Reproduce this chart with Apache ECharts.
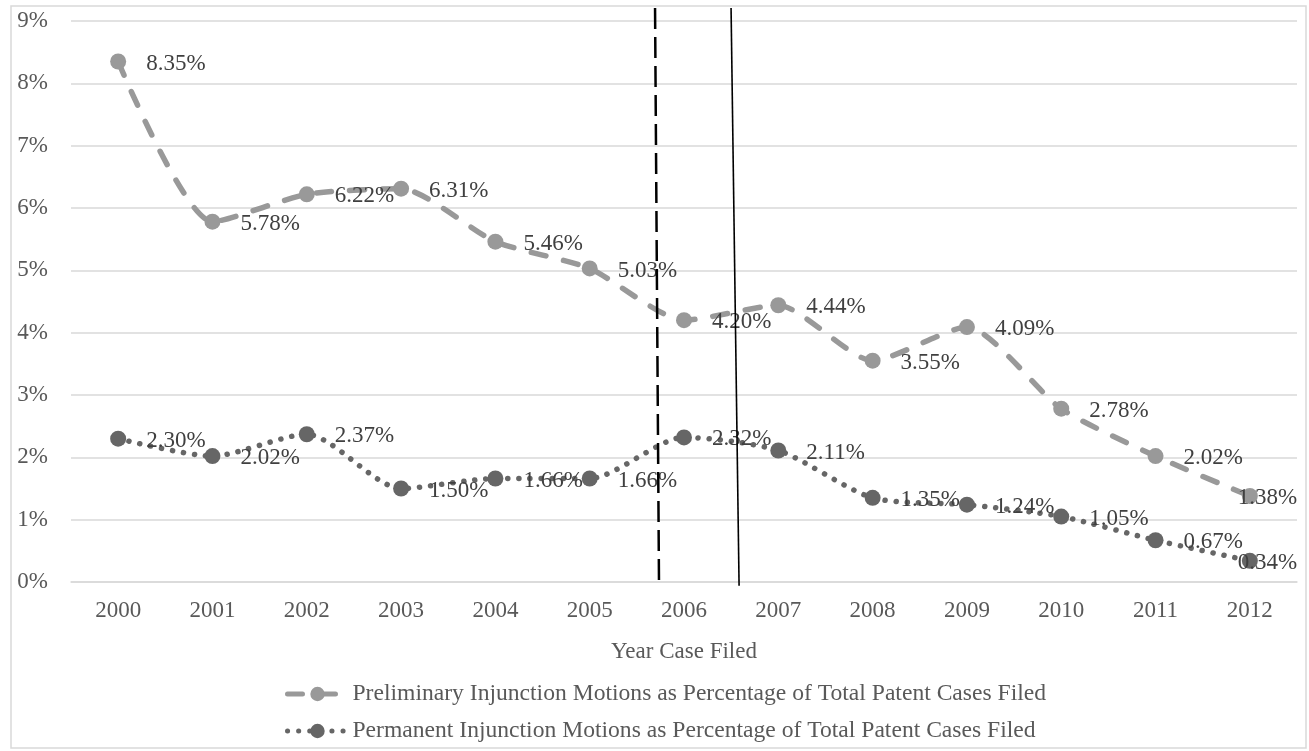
<!DOCTYPE html>
<html>
<head>
<meta charset="utf-8">
<script src="https://cdn.jsdelivr.net/npm/echarts@6/dist/echarts.min.js"></script>
<style>
html,body{margin:0;padding:0;background:#fff;}
#chart{width:1309px;height:751px;}
</style>
</head>
<body>
<div id="chart"></div>
<script>
// ---- data ----
var years = ['2000','2001','2002','2003','2004','2005','2006','2007','2008','2009','2010','2011','2012'];
var preliminary = [8.35, 5.78, 6.22, 6.31, 5.46, 5.03, 4.20, 4.44, 3.55, 4.09, 2.78, 2.02, 1.38];
var permanent = [2.30, 2.02, 2.37, 1.50, 1.66, 1.66, 2.32, 2.11, 1.35, 1.24, 1.05, 0.67, 0.34];
var prelimName = 'Preliminary Injunction Motions as Percentage of Total Patent Cases Filed';
var permName = 'Permanent Injunction Motions as Percentage of Total Patent Cases Filed';
var xTitle = 'Year Case Filed';
// reference lines in data units (x as category index, y as percent)
var dashedRefLine = [[5.693, 9.21], [5.735, -0.06]];
var solidRefLine = [[6.499, 9.21], [6.584, -0.06]];

// ---- styling ----
var FONT = 'Liberation Serif';
var labelShift = { 12: [-40, 2] };

function buildData(values) {
  return values.map(function (v, i) {
    var item = { value: v };
    if (labelShift[i]) item.label = { offset: labelShift[i] };
    return item;
  });
}

var chart = echarts.init(document.getElementById('chart'));
var labelCfg = {
  show: true, position: 'right', distance: 20, offset: [0, 2],
  color: '#404040', fontFamily: FONT, fontSize: 23,
  formatter: function (p) { return p.value.toFixed(2) + '%'; }
};
var legendText = { fontFamily: FONT, fontSize: 23.6, color: '#595959' };

chart.setOption({
  animation: false,
  backgroundColor: '#fff',
  graphic: [{
    type: 'rect', shape: { x: 11, y: 6, width: 1295, height: 742 },
    style: { fill: 'none', stroke: '#d9d9d9', lineWidth: 1.5 }, silent: true, z: -1
  }],
  grid: { left: 71, right: 12, top: 21, bottom: 169 },
  legend: [{
    left: 280, top: 677, itemWidth: 60, itemHeight: 18,
    lineStyle: { width: 5 },
    textStyle: legendText, data: [prelimName]
  }, {
    left: 280, top: 714, itemWidth: 60, itemHeight: 18,
    lineStyle: { width: 5 },
    textStyle: legendText, data: [permName]
  }],
  xAxis: [{
    type: 'category', data: years, boundaryGap: true,
    axisLine: { show: true, lineStyle: { color: '#d9d9d9', width: 1.5 } },
    axisTick: { show: false },
    axisLabel: { fontFamily: FONT, fontSize: 23, color: '#595959', margin: 17 },
    name: xTitle, nameLocation: 'middle', nameGap: 58,
    nameTextStyle: { fontFamily: FONT, fontSize: 23, color: '#595959' }
  }, {
    type: 'value', min: -0.5, max: 12.5, show: false
  }],
  yAxis: {
    type: 'value', min: 0, max: 9, interval: 1,
    axisLine: { show: false }, axisTick: { show: false },
    splitLine: { lineStyle: { color: '#d9d9d9', width: 1.5 } },
    axisLabel: { formatter: '{value}%', fontFamily: FONT, fontSize: 23, color: '#595959', margin: 23 }
  },
  series: [{
    name: prelimName, type: 'line', smooth: 0.22,
    data: buildData(preliminary),
    symbol: 'circle', symbolSize: 16,
    itemStyle: { color: '#999999' },
    lineStyle: { color: '#999999', width: 5.5, type: [15, 18], cap: 'round' },
    label: labelCfg, z: 3
  }, {
    name: permName, type: 'line', smooth: 0.25,
    data: buildData(permanent),
    symbol: 'circle', symbolSize: 16,
    itemStyle: { color: '#666666' },
    lineStyle: { color: '#666666', width: 5.5, type: [0.1, 11], cap: 'round' },
    label: labelCfg, z: 3
  }, {
    name: 'refDashed', type: 'line', xAxisIndex: 1, data: dashedRefLine,
    symbol: 'none', clip: false, silent: true,
    lineStyle: { color: '#000', width: 2.5, type: [21, 8] }, z: 5
  }, {
    name: 'refSolid', type: 'line', xAxisIndex: 1, data: solidRefLine,
    symbol: 'none', clip: false, silent: true,
    lineStyle: { color: '#000', width: 1.6, type: 'solid' }, z: 5
  }]
});
</script>
</body>
</html>
